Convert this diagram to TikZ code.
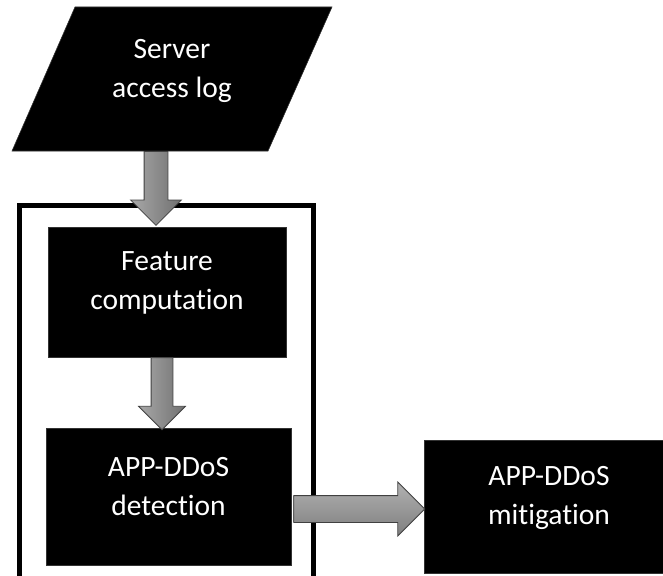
\documentclass[tikz,border=0pt]{standalone}
\usepackage{fontspec}
\setmainfont[Ligatures=NoCommon]{Carlito}
\usepackage{tikz}
\usetikzlibrary{shapes,arrows,positioning,calc}
\definecolor{arrowlight}{gray}{0.66}
\definecolor{arrowdark}{gray}{0.44}
\definecolor{arrowline}{gray}{0.25}

\begin{document}
\begin{tikzpicture}[
    x=1pt, y=-1pt,
    every node/.style={font=\fontsize{29.5}{39}\selectfont},
    blackbox/.style={rectangle, fill=black, draw=black!80, line width=0.6pt, text=white,
        align=center, text depth=22pt, inner sep=0pt},
    bigarrow/.style={single arrow, draw=arrowline, line width=0.8pt, inner xsep=0pt,
        single arrow head indent=0pt, anchor=tail}
]
\useasboundingbox (0,0) rectangle (663,575);

% input
\fill[draw=black!80, line width=0.6pt] (12,151) -- (75,7) -- (332,7) -- (268,151) -- cycle;
\node[text=white, align=center, text depth=22pt] (log) at (172,79) {Server\\access log};
\coordinate (logbot) at (156,151);

% processing
\draw[line width=5pt] (19.5,205) rectangle (313,580);
\node[blackbox, minimum width=238pt, minimum height=130pt] (feat) at (167,292) {Feature\\computation};
\node[blackbox, minimum width=245pt, minimum height=137pt] (det) at (168.5,497) {APP-DDoS\\detection};
\node[blackbox, minimum width=250pt, minimum height=133pt] (mit) at (549,506.5) {APP-DDoS\\mitigation};

% flow
\node[bigarrow, rotate=-90, minimum height=74pt, inner ysep=11.5pt, single arrow head extend=13.5pt,
    left color=arrowlight, right color=arrowdark] (a1) at (logbot) {};
\node[bigarrow, rotate=-90, minimum height=72pt, inner ysep=10.5pt, single arrow head extend=12.5pt,
    left color=arrowlight, right color=arrowdark] (a2) at ($(feat.south)+(-5,0)$) {};
\node[bigarrow, minimum height=131pt, inner ysep=13pt, single arrow head extend=13.5pt,
    top color=arrowlight!90, bottom color=arrowdark!90!white] (a3) at ($(det.east)+(2,12)$) {};
\end{tikzpicture}
\end{document}
